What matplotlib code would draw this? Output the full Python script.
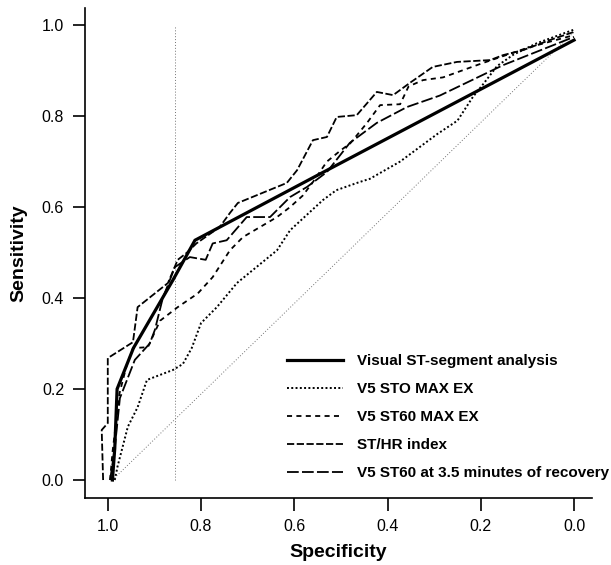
import matplotlib
matplotlib.use("Agg")
import matplotlib.pyplot as plt

plt.rcParams['font.family'] = ['Liberation Sans', 'DejaVu Sans']

# Visual ST-segment analysis (solid)
visual_spec = [0.99, 0.985, 0.98, 0.945, 0.86, 0.813, 0.55, 0.0]
visual_sens = [0.0, 0.07, 0.20, 0.29, 0.44, 0.527, 0.67, 0.967]

# V5 STO MAX EX (dotted)
sto_spec = [0.985, 0.979, 0.957, 0.936, 0.916, 0.86, 0.839, 0.82, 0.80, 0.766,
            0.723, 0.637, 0.609, 0.539, 0.51, 0.46, 0.438, 0.373, 0.294, 0.25,
            0.217, 0.195, 0.165, 0.13, 0.08, 0.0]
sto_sens = [0.0, 0.03, 0.117, 0.16, 0.22, 0.242, 0.255, 0.29, 0.345, 0.38,
            0.433, 0.505, 0.549, 0.615, 0.637, 0.655, 0.662, 0.70, 0.76, 0.79,
            0.842, 0.87, 0.91, 0.935, 0.96, 0.99]

# V5 ST60 MAX EX (short dash)
st60_spec = [0.995, 0.99, 0.975, 0.96, 0.946, 0.914, 0.888, 0.85, 0.807, 0.775,
             0.738, 0.71, 0.637, 0.609, 0.582, 0.56, 0.53, 0.50, 0.48, 0.444,
             0.416, 0.373, 0.355, 0.324, 0.281, 0.2, 0.1, 0.0]
st60_sens = [0.0, 0.06, 0.19, 0.25, 0.29, 0.292, 0.35, 0.38, 0.41, 0.446,
             0.505, 0.534, 0.578, 0.60, 0.625, 0.655, 0.70, 0.725, 0.74, 0.785,
             0.824, 0.826, 0.865, 0.879, 0.885, 0.915, 0.95, 0.978]

# ST/HR index (medium dash)
sthr_spec = [1.01, 1.013, 1.0, 1.0, 0.946, 0.936, 0.871, 0.85, 0.83, 0.81,
             0.76, 0.738, 0.721, 0.616, 0.594, 0.56, 0.53, 0.509, 0.466, 0.423,
             0.388, 0.352, 0.303, 0.251, 0.18, 0.152, 0.109, 0.052, 0.0]
sthr_sens = [0.0, 0.11, 0.125, 0.268, 0.303, 0.38, 0.433, 0.484, 0.50, 0.52,
             0.556, 0.587, 0.609, 0.653, 0.681, 0.747, 0.754, 0.798, 0.802, 0.853,
             0.846, 0.873, 0.908, 0.919, 0.923, 0.934, 0.945, 0.967, 0.985]

# V5 ST60 at 3.5 minutes of recovery (long dash)
rec_spec = [0.995, 0.985, 0.974, 0.942, 0.91, 0.899, 0.882, 0.856, 0.824, 0.79,
            0.775, 0.745, 0.702, 0.652, 0.609, 0.573, 0.53, 0.481, 0.423, 0.358,
            0.288, 0.152, 0.0]
rec_sens = [0.0, 0.07, 0.18, 0.264, 0.30, 0.33, 0.40, 0.468, 0.49, 0.484,
            0.52, 0.527, 0.578, 0.578, 0.622, 0.644, 0.677, 0.741, 0.785, 0.82,
            0.845, 0.912, 0.974]

# reference lines
chance_spec = [0.99, 0.0]
chance_sens = [0.0, 0.985]
cutoff_spec = [0.855, 0.855]
cutoff_sens = [0.0, 1.0]

fig = plt.figure(figsize=(6.11, 5.65), dpi=100)
ax = fig.add_axes([0.139, 0.1186, 0.830, 0.8674])

ax.plot(chance_spec, chance_sens, color='0.45', lw=0.7, linestyle=(0, (1, 2)))
ax.plot(cutoff_spec, cutoff_sens, color='0.45', lw=0.7, linestyle=(0, (1, 2)))

ax.plot(visual_spec, visual_sens, color='k', lw=2.3, solid_joinstyle='miter',
        label='Visual ST-segment analysis')
ax.plot(sto_spec, sto_sens, color='k', lw=1.4, linestyle=(0, (1, 1.2)),
        label='V5 STO MAX EX')
ax.plot(st60_spec, st60_sens, color='k', lw=1.3, linestyle=(0, (2.8, 2.4)),
        label='V5 ST60 MAX EX')
ax.plot(sthr_spec, sthr_sens, color='k', lw=1.3, linestyle=(0, (4, 1.4)),
        label='ST/HR index')
ax.plot(rec_spec, rec_sens, color='k', lw=1.3, linestyle=(0, (6.5, 1.8)),
        label='V5 ST60 at 3.5 minutes of recovery')

ax.set_xlim(1.049, -0.0386)
ax.set_ylim(-0.0395, 1.0377)
ax.set_xticks([1.0, 0.8, 0.6, 0.4, 0.2, 0.0])
ax.set_yticks([0.0, 0.2, 0.4, 0.6, 0.8, 1.0])
ax.set_xticklabels(['1.0', '0.8', '0.6', '0.4', '0.2', '0.0'], fontsize=11.5)
ax.set_yticklabels(['0.0', '0.2', '0.4', '0.6', '0.8', '1.0'], fontsize=11.5)
ax.tick_params(direction='out', length=9, width=1.2, pad=6)

for side in ['top', 'right']:
    ax.spines[side].set_visible(False)
for side in ['left', 'bottom']:
    ax.spines[side].set_linewidth(1.2)

ax.set_xlabel('Specificity', fontsize=14, fontweight='bold', labelpad=7)
ax.set_ylabel('Sensitivity', fontsize=14, fontweight='bold', labelpad=10)

leg = ax.legend(loc='lower left', bbox_to_anchor=(0.372, 0.008), frameon=False,
                handlelength=3.65, handletextpad=0.9, labelspacing=0.92,
                prop={'weight': 'bold', 'size': 11})

fig.savefig('out.png', dpi=100)
